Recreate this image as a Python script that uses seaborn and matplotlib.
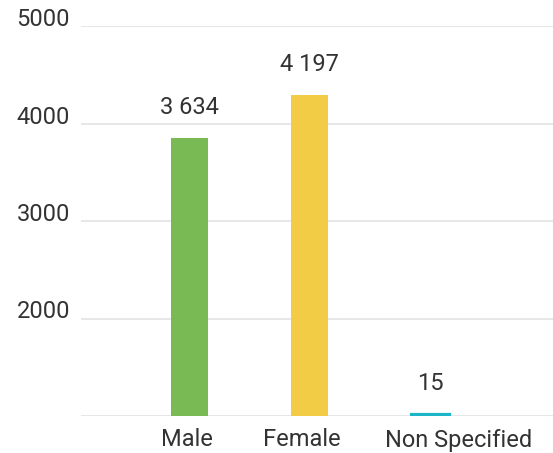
import pandas as pd
import seaborn as sns
import matplotlib.pyplot as plt
from matplotlib.transforms import ScaledTranslation

# chart data
categories = ["Male", "Female", "Non Specified"]
counts = [3634, 4197, 15]
colors = ["#7aba55", "#f2cc45", "#1db5c8"]
ytick_labels = ["2000", "3000", "4000", "5000"]

sns.set_style("white")
plt.rcParams["font.family"] = ["Roboto", "DejaVu Sans"]

df = pd.DataFrame({"gender": categories, "count": counts})

fig = plt.figure(figsize=(5.53, 4.53), dpi=100)
ax = fig.add_axes([81 / 553, 37 / 453, (553 - 81) / 553, 390 / 453])

sns.barplot(data=df, x="gender", y="count", hue="gender", palette=colors,
            dodge=False, width=0.31, legend=False, ax=ax, saturation=1,
            linewidth=0)

# tiny bars get a same-colour outline so they stay visible, like the source
for patch, c, v in zip(ax.patches, colors, counts):
    if v < 100:
        patch.set_edgecolor(c)
        patch.set_linewidth(3)
        patch.set_zorder(3)

# value labels above bars
for i, v in enumerate(counts):
    ax.annotate(f"{v:,}".replace(",", " "), (i, v), xytext=(0, 14),
                textcoords="offset points", ha="center", va="bottom",
                fontsize=17, color="#333333")

# gridlines evenly spaced, labelled as in the source chart
step = 1275
ticks = [step * (k + 1) for k in range(len(ytick_labels))]
ax.set_ylim(0, ticks[-1])
ax.set_yticks(ticks)
ax.set_yticklabels(ytick_labels, va="baseline")
ax.axhline(0, color="#e3e3e3", lw=1.2, zorder=0)
ax.grid(axis="y", color="#e3e3e3", lw=1.2)
ax.set_axisbelow(True)
ax.set_xlim(-0.9, 3.02)

ax.tick_params(axis="y", length=0, pad=8, labelsize=17, labelcolor="#333333")
ax.tick_params(axis="x", length=0, pad=9, labelsize=17, labelcolor="#333333")

# the source nudges the category labels sideways (pixels)
nudges = [-2, -8, 28]
for lbl, dx in zip(ax.get_xticklabels(), nudges):
    lbl.set_transform(lbl.get_transform() + ScaledTranslation(dx / 100, 0, fig.dpi_scale_trans))

ax.set_xlabel("")
ax.set_ylabel("")
sns.despine(ax=ax, left=True, bottom=True)

fig.savefig("out.png", dpi=100)
